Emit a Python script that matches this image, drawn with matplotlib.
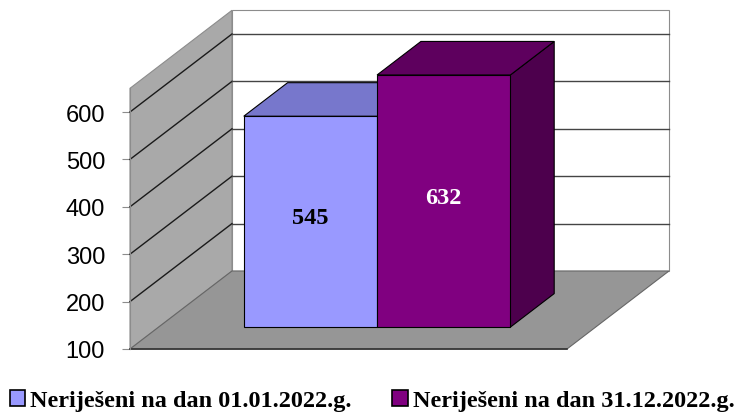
import matplotlib
matplotlib.use("Agg")
import matplotlib.pyplot as plt
from matplotlib.patches import Polygon, Patch

# data
labels = ["Neriješeni na dan 01.01.2022.g.", "Neriješeni na dan 31.12.2022.g."]
values = [545, 632]
label_colors = ["black", "white"]
yticks = [100, 200, 300, 400, 500, 600]

FRONT = ["#9999FF", "#800080"]
TOP = ["#7777CC", "#5E005E"]
SIDE = ["#6666AA", "#4D004D"]

YMIN, YMAX = 100, 650
DX, DY = 0.2334, 164.6   # depth offset of back wall (x units, value units)
F0, F1 = 0.28, 0.71      # bar depth (front/back fraction)
BAR_W = 0.305

fig = plt.figure(figsize=(7.45, 4.14), dpi=100)
ax = fig.add_axes([130 / 745, 64 / 414, 437 / 745, 260.7 / 414])
ax.set_xlim(0, 1)
ax.set_ylim(YMIN, YMAX)


def poly(pts, fc, ec="none", lw=0.8, z=1):
    ax.add_patch(Polygon(pts, closed=True, facecolor=fc, edgecolor=ec,
                         linewidth=lw, zorder=z, clip_on=False))


# walls and floor
poly([(0, YMIN), (DX, YMIN + DY), (DX, YMAX + DY), (0, YMAX)], "#A9A9A9", "#8C8C8C", z=1)
poly([(DX, YMIN + DY), (1 + DX, YMIN + DY), (1 + DX, YMAX + DY), (DX, YMAX + DY)],
     "white", "#8C8C8C", z=1)
poly([(0, YMIN), (1, YMIN), (1 + DX, YMIN + DY), (DX, YMIN + DY)], "#969696", "#666666", z=2)
ax.plot([0, 1], [YMIN, YMIN], color="#333333", lw=1.2, zorder=3, clip_on=False)

# gridlines
for v in yticks[1:]:
    ax.plot([0, DX], [v, v + DY], color="#1a1a1a", lw=1.0, zorder=2, clip_on=False)
    ax.plot([DX, 1 + DX], [v + DY, v + DY], color="#444444", lw=1.0, zorder=2, clip_on=False)

# bars
gap = (1 - len(values) * BAR_W) / 2
for i, v in enumerate(values):
    x0 = gap + i * BAR_W + F0 * DX
    x1 = x0 + BAR_W
    b0 = YMIN + F0 * DY
    ddx, ddy = (F1 - F0) * DX, (F1 - F0) * DY
    top = v + F0 * DY
    z = 5 + i
    poly([(x1, b0), (x1 + ddx, b0 + ddy), (x1 + ddx, top + ddy), (x1, top)], SIDE[i], "black", z=z)
    poly([(x0, top), (x1, top), (x1 + ddx, top + ddy), (x0 + ddx, top + ddy)], TOP[i], "black", z=z)
    poly([(x0, b0), (x1, b0), (x1, top), (x0, top)], FRONT[i], "black", z=z)
    ax.text((x0 + x1) / 2, (b0 + top) / 2 + 8, str(v), ha="center", va="center",
            fontsize=17.5, fontweight="bold", family="Liberation Serif",
            color=label_colors[i], zorder=10)

# axis
for s in ["top", "right", "bottom"]:
    ax.spines[s].set_visible(False)
ax.spines["left"].set_color("#8C8C8C")
ax.spines["left"].set_zorder(4)
ax.set_xticks([])
ax.set_yticks(yticks)
ax.tick_params(axis="y", length=6, color="#8C8C8C", labelsize=17, pad=12)
for t in ax.get_yticklabels():
    t.set_family("Liberation Sans")
ax.patch.set_visible(False)

handles = [Patch(facecolor=FRONT[i], edgecolor="black", linewidth=1.2, label=labels[i])
           for i in range(len(values))]
fig.legend(handles=handles, loc="center", bbox_to_anchor=(0.4993, 0.03), ncol=2,
           frameon=False, handlelength=0.65, handleheight=0.65, handletextpad=0.2,
           columnspacing=1.65, borderpad=0,
           prop={"family": "Liberation Serif", "weight": "bold", "size": 17.5})

fig.savefig("out.png", dpi=100)
